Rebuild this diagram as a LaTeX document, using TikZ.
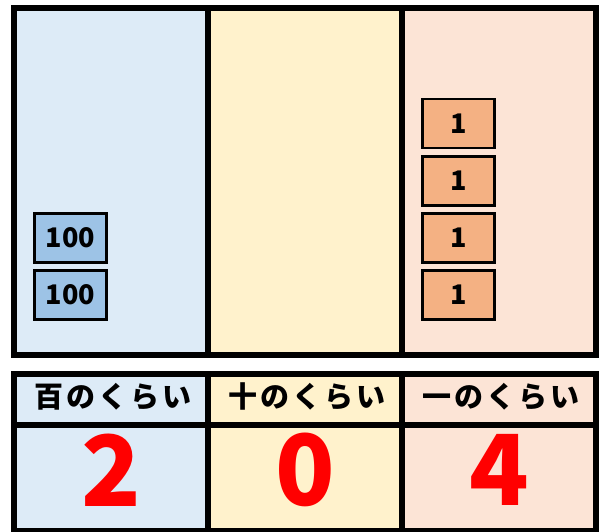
\documentclass[tikz,border=0pt]{standalone}
\usepackage{fontspec}
\newfontfamily\jp{Noto Sans CJK JP}
\newfontfamily\jpls{Noto Sans CJK JP}[LetterSpace=10]
\definecolor{cblue}{HTML}{DDEBF7}
\definecolor{cyellow}{HTML}{FFF2CC}
\definecolor{cpink}{HTML}{FCE4D6}
\definecolor{bblue}{HTML}{9DC3E6}
\definecolor{borange}{HTML}{F4B183}
\definecolor{numred}{HTML}{FF0000}
\tikzset{
  grid/.style={line width=6pt, line cap=rect},
  blockbox/.style={draw=black, line width=2.5pt, minimum width=72pt, minimum height=49pt, inner sep=0pt, font=\jp\bfseries\fontsize{27}{27}\selectfont},
  hundred/.style={blockbox, fill=bblue},
  one/.style={blockbox, fill=borange},
  header/.style={font=\jpls\bfseries\fontsize{29}{29}\selectfont, inner sep=0pt},
  bignum/.style={font=\jp\bfseries\fontsize{98}{98}\selectfont, text=numred, inner sep=0pt},
}
\begin{document}
\begin{tikzpicture}[x=1pt, y=-1pt]
\useasboundingbox (0,0) rectangle (600,532);
% top panel backgrounds
\fill[cblue] (14,8) rectangle (208,354.5);
\fill[cyellow] (208,8) rectangle (402,354.5);
\fill[cpink] (402,8) rectangle (596,354.5);
% bottom panel backgrounds
\fill[cblue] (14,374) rectangle (208,531);
\fill[cyellow] (208,374) rectangle (402,531);
\fill[cpink] (402,374) rectangle (596,531);
% top grid
\draw[grid] (14,8) rectangle (596,354.5);
\draw[grid] (208,8) -- (208,354.5);
\draw[grid] (402,8) -- (402,354.5);
% bottom grid
\draw[grid] (14,374) rectangle (596,531);
\draw[grid] (14,424.5) -- (596,424.5);
\draw[grid] (208,374) -- (208,531);
\draw[grid] (402,374) -- (402,531);
% hundreds blocks
\node[hundred] (h1) at (70.5,238) {100};
\node[hundred] (h2) at (70.5,295) {100};
% ones blocks
\node[one] (o1) at (458.5,123.5) {1};
\node[one] (o2) at (458.5,181) {1};
\node[one] (o3) at (458.5,238) {1};
\node[one] (o4) at (458.5,295) {1};
% headers
\node[header] (t1) at (113,397) {百のくらい};
\node[header] (t2) at (307,397) {十のくらい};
\node[header] (t3) at (501,397) {一のくらい};
% numbers
\node[bignum] (n1) at (111,470) {2};
\node[bignum] (n2) at (305,470) {0};
\node[bignum] (n3) at (499,470) {4};
\end{tikzpicture}
\end{document}
